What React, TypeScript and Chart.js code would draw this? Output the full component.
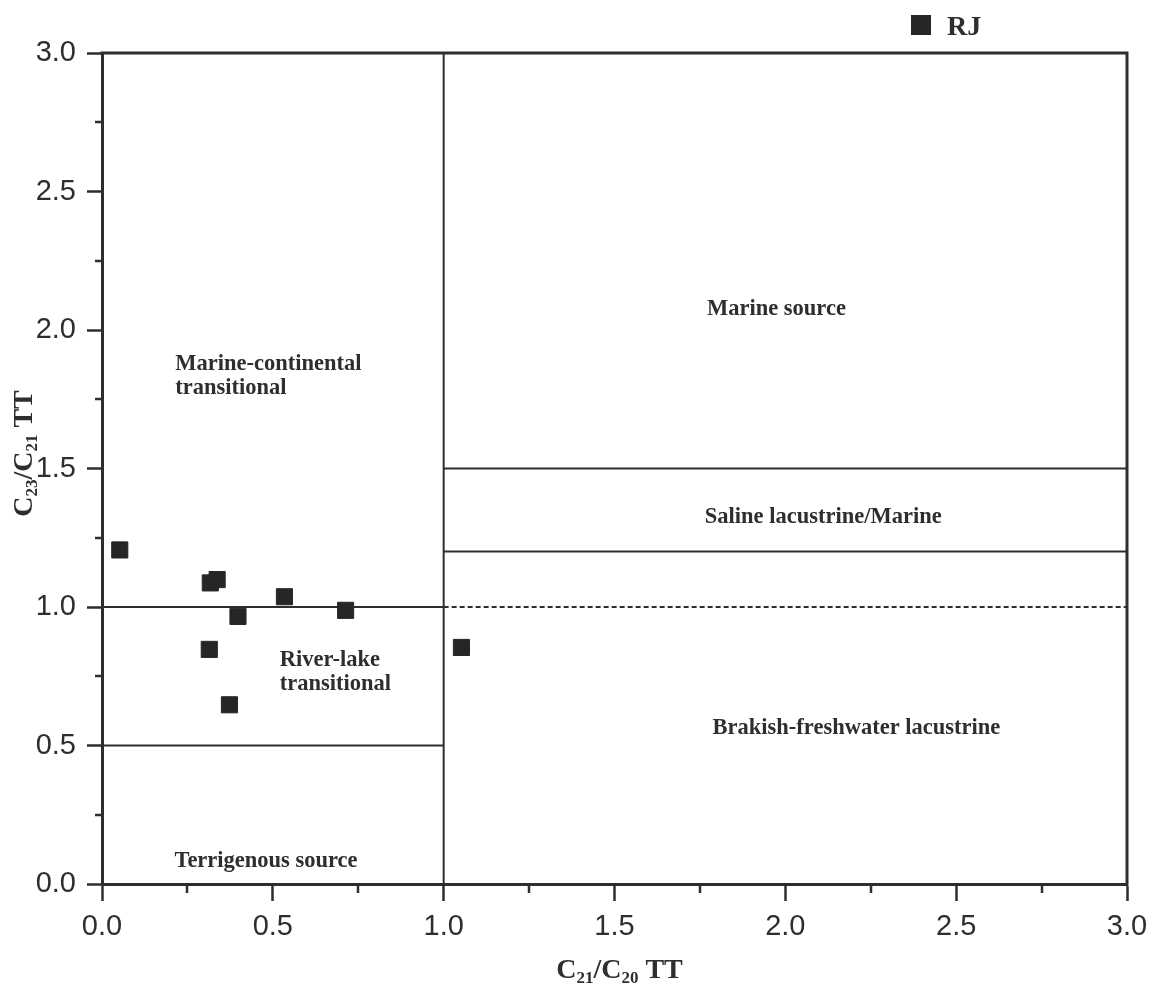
import { useEffect, useRef } from 'react';
import { Chart, registerables } from 'chart.js';

Chart.register(...registerables);

// ---- data ----
const seriesName = 'RJ';
const rjX = [0.052, 0.317, 0.337, 0.398, 0.534, 0.713, 0.314, 0.373, 1.052];
const rjY = [1.206, 1.087, 1.099, 0.966, 1.037, 0.988, 0.847, 0.647, 0.854];

const axisMin = 0;
const axisMax = 3;
const majorStep = 0.5;
const minorTicks = [0.25, 0.75, 1.25, 1.75, 2.25, 2.75];

// boundary lines of the discrimination diagram (x pairs / y pairs)
const boundaryX = [[1, 1], [0, 1], [1, 3], [0, 1], [1, 3], [1, 3]];
const boundaryY = [[0, 3], [1, 1], [1, 1], [0.5, 0.5], [1.2, 1.2], [1.5, 1.5]];
const dashedBoundary = [false, false, true, false, false, false];

// region names
const regionLines = [
  ['Marine source'],
  ['Marine-continental', 'transitional'],
  ['Saline lacustrine/Marine'],
  ['River-lake', 'transitional'],
  ['Brakish-freshwater lacustrine'],
  ['Terrigenous source'],
];
const regionX = [1.974, 0.2145, 2.111, 0.52, 2.208, 0.212];
const regionY = [2.055, 1.857, 1.304, 0.786, 0.543, 0.063];
const regionAlign = ['center', 'left', 'center', 'left', 'center', 'left'];

const xTitle = [
  { t: 'C' }, { t: '21', sub: true }, { t: '/C' }, { t: '20', sub: true }, { t: ' TT' },
];
const yTitle = [
  { t: 'C' }, { t: '23', sub: true }, { t: '/C' }, { t: '21', sub: true }, { t: ' TT' },
];

const INK = '#2e2e2e';
const MARK = '#262626';
const SERIF = '"Liberation Serif", "Times New Roman", serif';
const SANS = '"Liberation Sans", Arial, sans-serif';

function drawRich(ctx: CanvasRenderingContext2D, parts: { t: string; sub?: boolean }[], x: number, y: number) {
  const main = `bold 28px ${SERIF}`;
  const sub = `bold 17px ${SERIF}`;
  let w = 0;
  for (const p of parts) {
    ctx.font = p.sub ? sub : main;
    w += ctx.measureText(p.t).width;
  }
  let cx = x - w / 2;
  ctx.textAlign = 'left';
  ctx.textBaseline = 'alphabetic';
  for (const p of parts) {
    ctx.font = p.sub ? sub : main;
    ctx.fillText(p.t, cx, p.sub ? y + 5 : y);
    cx += ctx.measureText(p.t).width;
  }
}

const decorPlugin = {
  id: 'decor',
  beforeDatasetsDraw(chart: any) {
    const { ctx, chartArea: a, scales } = chart;
    const xs = scales.x;
    const ys = scales.y;
    ctx.save();
    // top and right frame
    ctx.strokeStyle = INK;
    ctx.lineWidth = 3;
    ctx.beginPath();
    ctx.moveTo(a.left - 1.5, a.top);
    ctx.lineTo(a.right, a.top);
    ctx.lineTo(a.right, a.bottom + 1.5);
    ctx.stroke();
    // minor ticks
    ctx.lineWidth = 2.5;
    for (const v of minorTicks) {
      const px = Math.round(xs.getPixelForValue(v));
      ctx.beginPath();
      ctx.moveTo(px, a.bottom);
      ctx.lineTo(px, a.bottom + 9);
      ctx.stroke();
      const py = Math.round(ys.getPixelForValue(v));
      ctx.beginPath();
      ctx.moveTo(a.left, py);
      ctx.lineTo(a.left - 7, py);
      ctx.stroke();
    }
    // region labels
    ctx.fillStyle = INK;
    ctx.font = `bold 22.5px ${SERIF}`;
    ctx.textBaseline = 'alphabetic';
    regionLines.forEach((lines, i) => {
      const px = xs.getPixelForValue(regionX[i]);
      const py = ys.getPixelForValue(regionY[i]);
      ctx.textAlign = regionAlign[i] as CanvasTextAlign;
      lines.forEach((ln, j) => ctx.fillText(ln, px, py + j * 24));
    });
    ctx.restore();
  },
  afterDraw(chart: any) {
    const { ctx, chartArea: a } = chart;
    ctx.save();
    ctx.fillStyle = INK;
    // x title
    drawRich(ctx, xTitle, (a.left + a.right) / 2 + 5, a.bottom + 94);
    // y title
    ctx.save();
    ctx.translate(32, (a.top + a.bottom) / 2 - 15);
    ctx.rotate(-Math.PI / 2);
    drawRich(ctx, yTitle, 0, 0);
    ctx.restore();
    // legend
    const lx = a.right - 206;
    const ly = a.top - 28;
    ctx.fillStyle = MARK;
    ctx.fillRect(lx - 10, ly - 10, 20, 20);
    ctx.fillStyle = INK;
    ctx.font = `bold 28px ${SERIF}`;
    ctx.textAlign = 'left';
    ctx.textBaseline = 'alphabetic';
    ctx.fillText(chart.data.datasets[0].label, lx + 26, ly + 10);
    ctx.restore();
  },
};

export default function App() {
  const ref = useRef<HTMLCanvasElement>(null);

  useEffect(() => {
    if (!ref.current) return;
    const datasets: any[] = [
      {
        type: 'scatter',
        label: seriesName,
        data: rjX.map((x, i) => ({ x, y: rjY[i] })),
        pointStyle: 'rect',
        pointRadius: 11.4,
        pointBackgroundColor: MARK,
        pointBorderColor: MARK,
        pointBorderWidth: 1,
        order: 0,
      },
      ...boundaryX.map((bx, i) => ({
        type: 'line',
        label: 'boundary' + i,
        data: bx.map((x, j) => ({ x, y: boundaryY[i][j] })),
        borderColor: INK,
        borderWidth: 2,
        borderDash: dashedBoundary[i] ? [5, 3] : [],
        pointRadius: 0,
        fill: false,
        order: 1,
      })),
    ];

    const tickFmt = (v: any) => Number(v).toFixed(1);

    const chart = new Chart(ref.current, {
      type: 'scatter',
      data: { datasets },
      plugins: [decorPlugin],
      options: {
        animation: false,
        responsive: false,
        devicePixelRatio: 1,
        layout: { padding: { left: 0, top: 53, right: 24, bottom: 0 } },
        plugins: {
          legend: { display: false },
          tooltip: { enabled: false },
        },
        scales: {
          x: {
            type: 'linear',
            min: axisMin,
            max: axisMax,
            afterFit: (s: any) => {
              s.height = 102;
              s.paddingLeft = 0;
              s.paddingRight = 0;
            },
            ticks: {
              stepSize: majorStep,
              callback: tickFmt,
              color: INK,
              font: { family: SANS, size: 29 },
              padding: 9,
              maxRotation: 0,
            },
            grid: {
              drawOnChartArea: false,
              drawTicks: true,
              tickLength: 17,
              tickWidth: 2.5,
              tickColor: INK,
              color: INK,
            },
            border: { display: true, width: 3, color: INK },
          },
          y: {
            type: 'linear',
            min: axisMin,
            max: axisMax,
            afterFit: (s: any) => {
              s.width = 102;
              s.paddingTop = 0;
              s.paddingBottom = 0;
            },
            ticks: {
              stepSize: majorStep,
              callback: tickFmt,
              color: INK,
              font: { family: SANS, size: 29 },
              padding: 11,
            },
            grid: {
              drawOnChartArea: false,
              drawTicks: true,
              tickLength: 15,
              tickWidth: 2.5,
              tickColor: INK,
              color: INK,
            },
            border: { display: true, width: 3, color: INK },
          },
        },
      } as any,
    });
    return () => chart.destroy();
  }, []);

  return (
    <div style={{ position: 'fixed', left: 0, top: 0, width: 1151, height: 986, background: '#fff' }}>
      <canvas ref={ref} width={1151} height={986} style={{ display: 'block', width: 1151, height: 986 }} />
    </div>
  );
}
